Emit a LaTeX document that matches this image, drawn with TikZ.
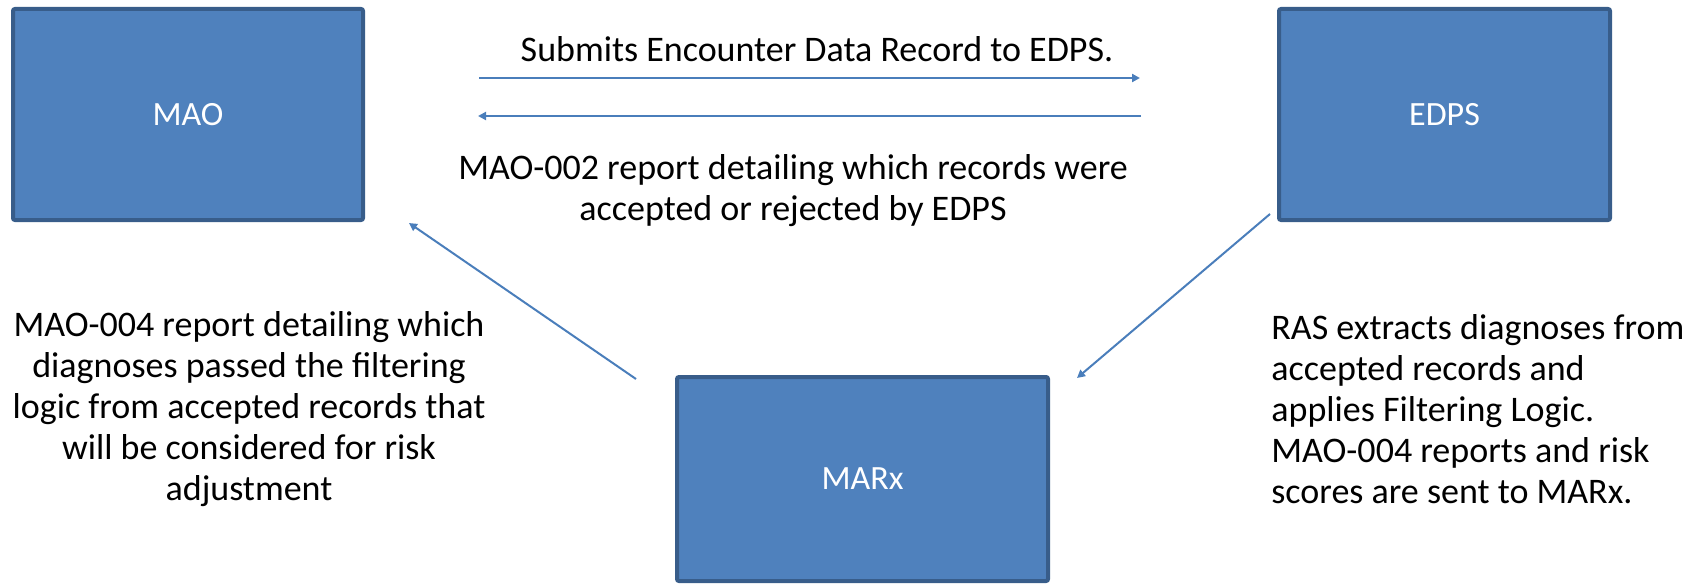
\documentclass[tikz,border=0pt]{standalone}
\usepackage{fontspec}
\setmainfont{Carlito}
\usepackage{tikz}
\usetikzlibrary{arrows.meta,positioning,calc}
\usepackage{xcolor}
\definecolor{boxfill}{HTML}{4F81BD}
\definecolor{boxline}{HTML}{385D8A}
\definecolor{linkcol}{HTML}{4A7EBB}
\tikzset{
  unit/.style={draw=boxline,fill=boxfill,line width=2pt,rounded corners=1pt,
    inner sep=0pt,text=white,font=\fontsize{17}{20}\selectfont},
  link/.style={-{Triangle[length=4pt,width=4pt]},draw=linkcol,line width=1pt},
  note/.style={inner sep=0pt,font=\fontsize{18}{20.5}\selectfont}
}
\begin{document}
\begin{tikzpicture}[x=0.5pt,y=-0.5pt]
  \useasboundingbox (0,0) rectangle (1700,583);
  % the three systems
  \node[unit,minimum width=175pt,minimum height=105.5pt] (mao) at (188,114.5) {MAO};
  \node[unit,minimum width=165.5pt,minimum height=105.5pt] (edps) at (1444.5,114.5) {EDPS};
  \node[unit,minimum width=185.5pt,minimum height=102pt] (marx) at (862.5,479) {MARx};
  % labels
  \node[note] (submit) at (817,49) {Submits Encounter Data Record to EDPS.};
  \node[note,align=center] (rep2) at (793,191) {MAO-002 report detailing which records were\\accepted or rejected by EDPS};
  \node[note,align=center] (rep4) at (249,409) {MAO-004 report detailing which\\diagnoses passed the filtering\\logic from accepted records that\\will be considered for risk\\adjustment};
  \node[note,align=left,anchor=west] (ras) at (1271,409) {RAS extracts diagnoses from\\accepted records and\\applies Filtering Logic.\\MAO-004 reports and risk\\scores are sent to MARx.};
  % connectors
  \draw[link] ($(mao.east)+(114,-36.5)$) -- ($(edps.west)+(-137,-36.5)$);
  \draw[link] ($(edps.west)+(-136,1.5)$) -- ($(mao.east)+(113,1.5)$);
  \draw[link] ($(marx.north west)+(-39,4)$) -- ($(mao.south east)+(44,1)$);
  \draw[link] ($(edps.south west)+(-7,-8)$) -- ($(marx.north east)+(27,3)$);
\end{tikzpicture}
\end{document}
